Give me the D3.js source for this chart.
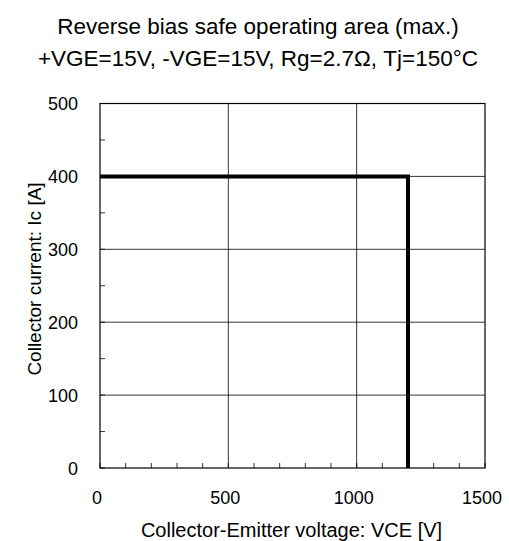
<!DOCTYPE html>
<html><head><meta charset="utf-8">
<script src="https://cdn.jsdelivr.net/npm/d3@7"></script>
<style>body{margin:0;background:#fff}svg{display:block}text{font-family:"Liberation Sans",Arial,sans-serif;fill:#000}</style>
</head><body>
<script>
const titleLines = ["Reverse bias safe operating area (max.)", "+VGE=15V, -VGE=15V, Rg=2.7\u03A9, Tj=150\u00B0C"];
const xLabel = "Collector-Emitter voltage: VCE [V]";
const yLabel = "Collector current: Ic [A]";
const xTicks = [0, 500, 1000, 1500];
const yTicks = [0, 100, 200, 300, 400, 500];
const xMinor = d3.range(0, 1501, 100);
const yMinor = d3.range(0, 501, 50);
const vce = [0, 1200, 1200];
const ic = [400, 400, 0];

const W = 509, H = 541;
const m = {l:100, r:24, t:103.5, b:73};
const svg = d3.select("body").append("svg").attr("width", W).attr("height", H);
const x = d3.scaleLinear().domain([0,1500]).range([m.l, W - m.r]);
const y = d3.scaleLinear().domain([0,500]).range([H - m.b, m.t]);

// grid
svg.append("g").selectAll("line").data(xTicks.slice(1,-1)).join("line")
  .attr("x1", d=>x(d)).attr("x2", d=>x(d)).attr("y1", y(0)).attr("y2", y(500))
  .attr("stroke", "#000").attr("stroke-width", 0.8);
svg.append("g").selectAll("line").data(yTicks.slice(1,-1)).join("line")
  .attr("y1", d=>y(d)).attr("y2", d=>y(d)).attr("x1", x(0)).attr("x2", x(1500))
  .attr("stroke", "#000").attr("stroke-width", 0.8);

// minor ticks
svg.append("g").selectAll("line").data(xMinor).join("line")
  .attr("x1", d=>x(d)).attr("x2", d=>x(d)).attr("y1", y(0)).attr("y2", y(0)-5)
  .attr("stroke", "#000").attr("stroke-width", 0.8);
svg.append("g").selectAll("line").data(yMinor).join("line")
  .attr("y1", d=>y(d)).attr("y2", d=>y(d)).attr("x1", x(0)).attr("x2", x(0)+5)
  .attr("stroke", "#000").attr("stroke-width", 0.8);

// frame
svg.append("rect").attr("x", x(0)).attr("y", y(500)).attr("width", x(1500)-x(0)).attr("height", y(0)-y(500))
  .attr("fill", "none").attr("stroke", "#000").attr("stroke-width", 1.2);

// data line
const pts = vce.map((v,i)=>[v, ic[i]]);
svg.append("path").datum(pts)
  .attr("d", d3.line().x(d=>x(d[0])).y(d=>y(d[1])))
  .attr("fill", "none").attr("stroke", "#000").attr("stroke-width", 4).attr("stroke-linejoin", "miter");

// tick labels
svg.append("g").selectAll("text").data(xTicks).join("text")
  .attr("x", d=>x(d)-3).attr("y", y(0)+36).attr("text-anchor", "middle")
  .attr("font-size", 18).text(d=>d);
svg.append("g").selectAll("text").data(yTicks).join("text")
  .attr("x", 78).attr("y", d=>y(d)+6.5).attr("text-anchor", "end")
  .attr("font-size", 18).text(d=>d);

// titles
svg.append("g").selectAll("text").data(titleLines).join("text")
  .attr("x", 258).attr("y", (d,i)=>34 + i*31.5).attr("text-anchor", "middle")
  .attr("font-size", 22.5).text(d=>d);
svg.append("text").attr("x", 291.5).attr("y", 537).attr("text-anchor", "middle")
  .attr("font-size", 20).text(xLabel);
svg.append("text").attr("transform", `translate(41,279) rotate(-90)`)
  .attr("text-anchor", "middle").attr("font-size", 19).text(yLabel);
</script>
</body></html>
